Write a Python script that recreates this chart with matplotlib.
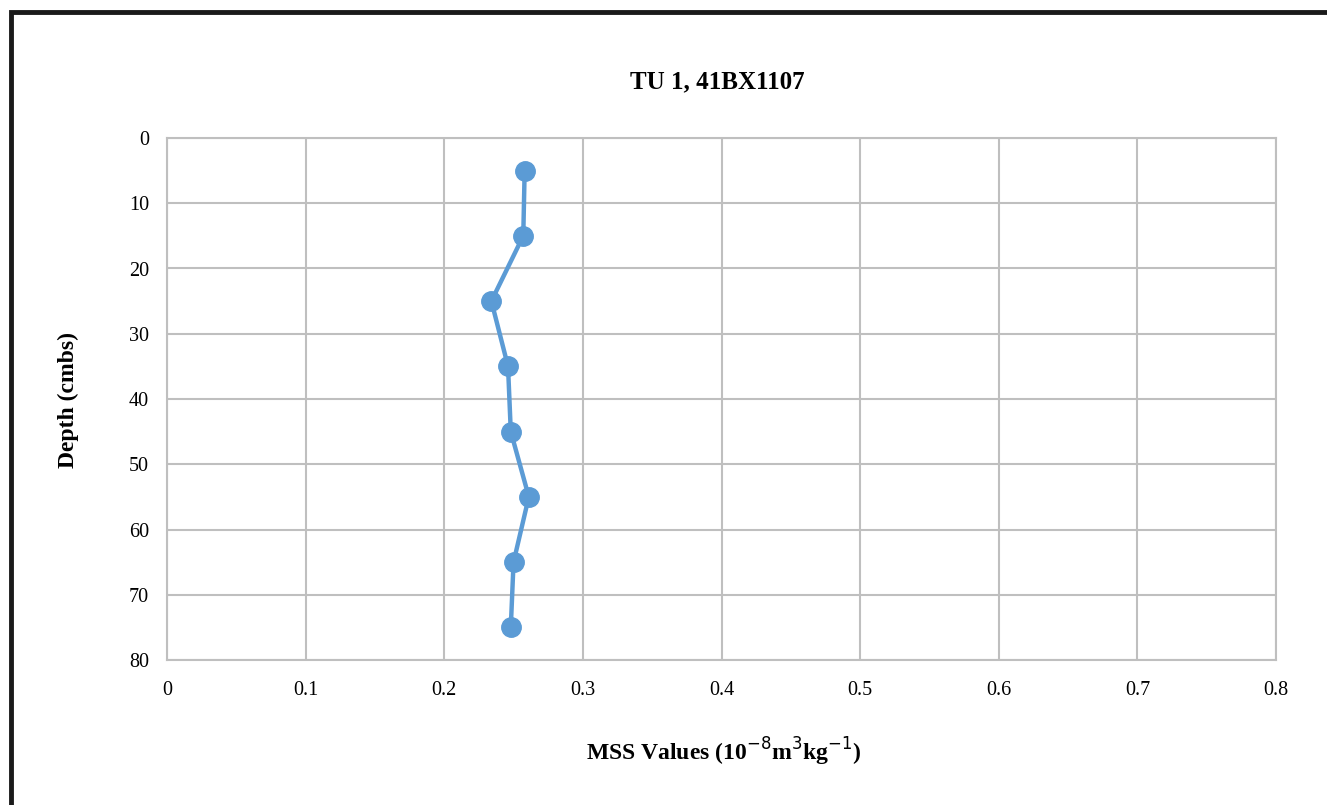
import matplotlib
matplotlib.use("Agg")
import matplotlib.pyplot as plt
from matplotlib.patches import Rectangle

# Magnetic susceptibility profile, TU 1
depth_cm = [5, 15, 25, 35, 45, 55, 65, 75]
mss_values = [0.258, 0.257, 0.234, 0.246, 0.248, 0.261, 0.250, 0.248]
x_ticks = [0, 0.1, 0.2, 0.3, 0.4, 0.5, 0.6, 0.7, 0.8]
x_tick_labels = ["0", "0.1", "0.2", "0.3", "0.4", "0.5", "0.6", "0.7", "0.8"]
y_ticks = [0, 10, 20, 30, 40, 50, 60, 70, 80]

plt.rcParams["font.family"] = ["Liberation Serif", "DejaVu Serif"]

W, H = 1327, 805
fig = plt.figure(figsize=(W / 100, H / 100), dpi=100)
ax = fig.add_axes([167 / W, 1 - 660 / H, (1276 - 167) / W, (660 - 138) / H])

grid_color = "#bfbfbf"
ax.plot(mss_values, depth_cm, color="#5b9bd5", linewidth=3.2, marker="o",
        markersize=14, zorder=3, clip_on=False)

ax.set_xlim(0, 0.8)
ax.set_ylim(80, 0)
ax.set_xticks(x_ticks)
ax.set_xticklabels(x_tick_labels)
ax.set_yticks(y_ticks)
ax.grid(True, color=grid_color, linewidth=1.5)
ax.set_axisbelow(True)
for s in ax.spines.values():
    s.set_color(grid_color)
    s.set_linewidth(1.5)
ax.tick_params(axis="both", length=0, labelsize=14.5, colors="black")
ax.tick_params(axis="x", pad=15)
ax.tick_params(axis="y", pad=13)

fig.text(717 / W, 1 - 82 / H, "TU 1, 41BX1107", ha="center", va="center",
         fontsize=18, fontweight="bold")
fig.text(724 / W, 1 - 752 / H, r"MSS Values (10$^{-8}$m$^{3}$kg$^{-1}$)",
         ha="center", va="center", fontsize=17, fontweight="bold")
fig.text(68 / W, 1 - 400 / H, "Depth (cmbs)", ha="center", va="center",
         rotation=90, fontsize=17, fontweight="bold")

# Outer chart frame (left and top edges visible)
fig.patches.append(Rectangle((11 / W, -0.05), 1.2, 1 - 12 / H + 0.05,
                             transform=fig.transFigure, fill=False,
                             edgecolor="#1a1a1a", linewidth=3.5))

fig.savefig("out.png", dpi=100)
